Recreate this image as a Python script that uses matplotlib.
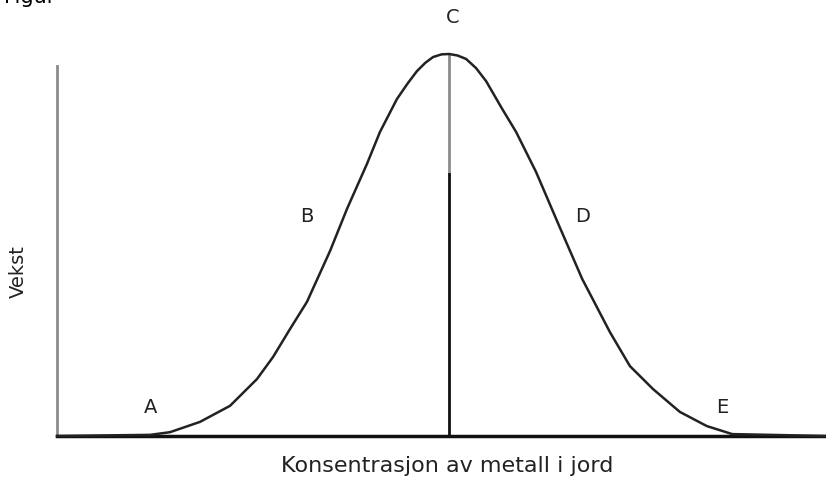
import matplotlib
matplotlib.use('Agg')
import matplotlib.pyplot as plt

# Curve (concentration 0-100, growth 0-100)
konsentrasjon = [0, 12.1, 14.7, 18.6, 22.5, 26.0, 28.1, 30.3, 32.5, 35.5, 37.7, 40.3, 42.0, 44.2,
                 45.6, 46.8, 47.9, 48.9, 50.0, 51.0, 52.1, 53.2, 54.5, 55.8, 57.9, 59.7, 62.3,
                 65.3, 68.3, 71.9, 74.5, 77.5, 81.0, 84.5, 87.8, 100]
vekst = [0, 0.3, 1.0, 3.7, 7.9, 14.9, 20.7, 28.0, 35.1, 48.4, 59.4, 71.2, 79.6, 88.2,
         92.3, 95.5, 97.7, 99.2, 99.9, 100, 99.6, 98.7, 96.3, 92.9, 85.6, 79.6, 69.1,
         55.0, 41.1, 27.2, 18.3, 12.3, 6.3, 2.6, 0.5, 0]

optimum_x = 51.0
optimum_y = 100.0

punkt_navn = ['A', 'B', 'C', 'D', 'E']
punkt_x = [12.1, 32.5, 51.5, 68.4, 86.5]
punkt_y = [7.6, 57.6, 109.7, 57.6, 7.6]

x_tittel = 'Konsentrasjon av metall i jord'
y_tittel = 'Vekst'

fig = plt.figure(figsize=(8.26, 4.85), dpi=100)
ax = fig.add_axes([57 / 826, 48 / 485, 769 / 826, 382 / 485])
ax.set_xlim(0, 100)
ax.set_ylim(0, 100)

ax.plot(konsentrasjon, vekst, color='#222222', lw=1.8, clip_on=False, zorder=3,
        solid_joinstyle='round')

# vertical line at the optimum: grey on top, black lower down
ax.plot([optimum_x, optimum_x], [68.6, optimum_y], color='#8c8c8c', lw=2, zorder=2)
ax.plot([optimum_x, optimum_x], [0, 68.6], color='#111111', lw=2, zorder=2)

for navn, px, py in zip(punkt_navn, punkt_x, punkt_y):
    ax.text(px, py, navn, fontsize=14, ha='center', va='center', color='#222222', clip_on=False)

for side in ['top', 'right']:
    ax.spines[side].set_visible(False)
ax.spines['left'].set_bounds(0, 96.9)
ax.spines['left'].set_color('#8c8c8c')
ax.spines['left'].set_linewidth(2)
ax.spines['bottom'].set_color('#111111')
ax.spines['bottom'].set_linewidth(2.5)
ax.set_xticks([])
ax.set_yticks([])

fig.text(447 / 826, 1 - 466 / 485, x_tittel, fontsize=16, ha='center', va='center', color='#222222')
fig.text(18 / 826, 1 - 272 / 485, y_tittel, fontsize=14, ha='center', va='center', rotation=90,
         color='#222222')
# title cut off at the top edge of the picture
fig.text(4 / 826, 1 - 3 / 485, 'Figur', fontsize=15, ha='left', va='baseline', color='black')

fig.savefig('out.png', dpi=100)
